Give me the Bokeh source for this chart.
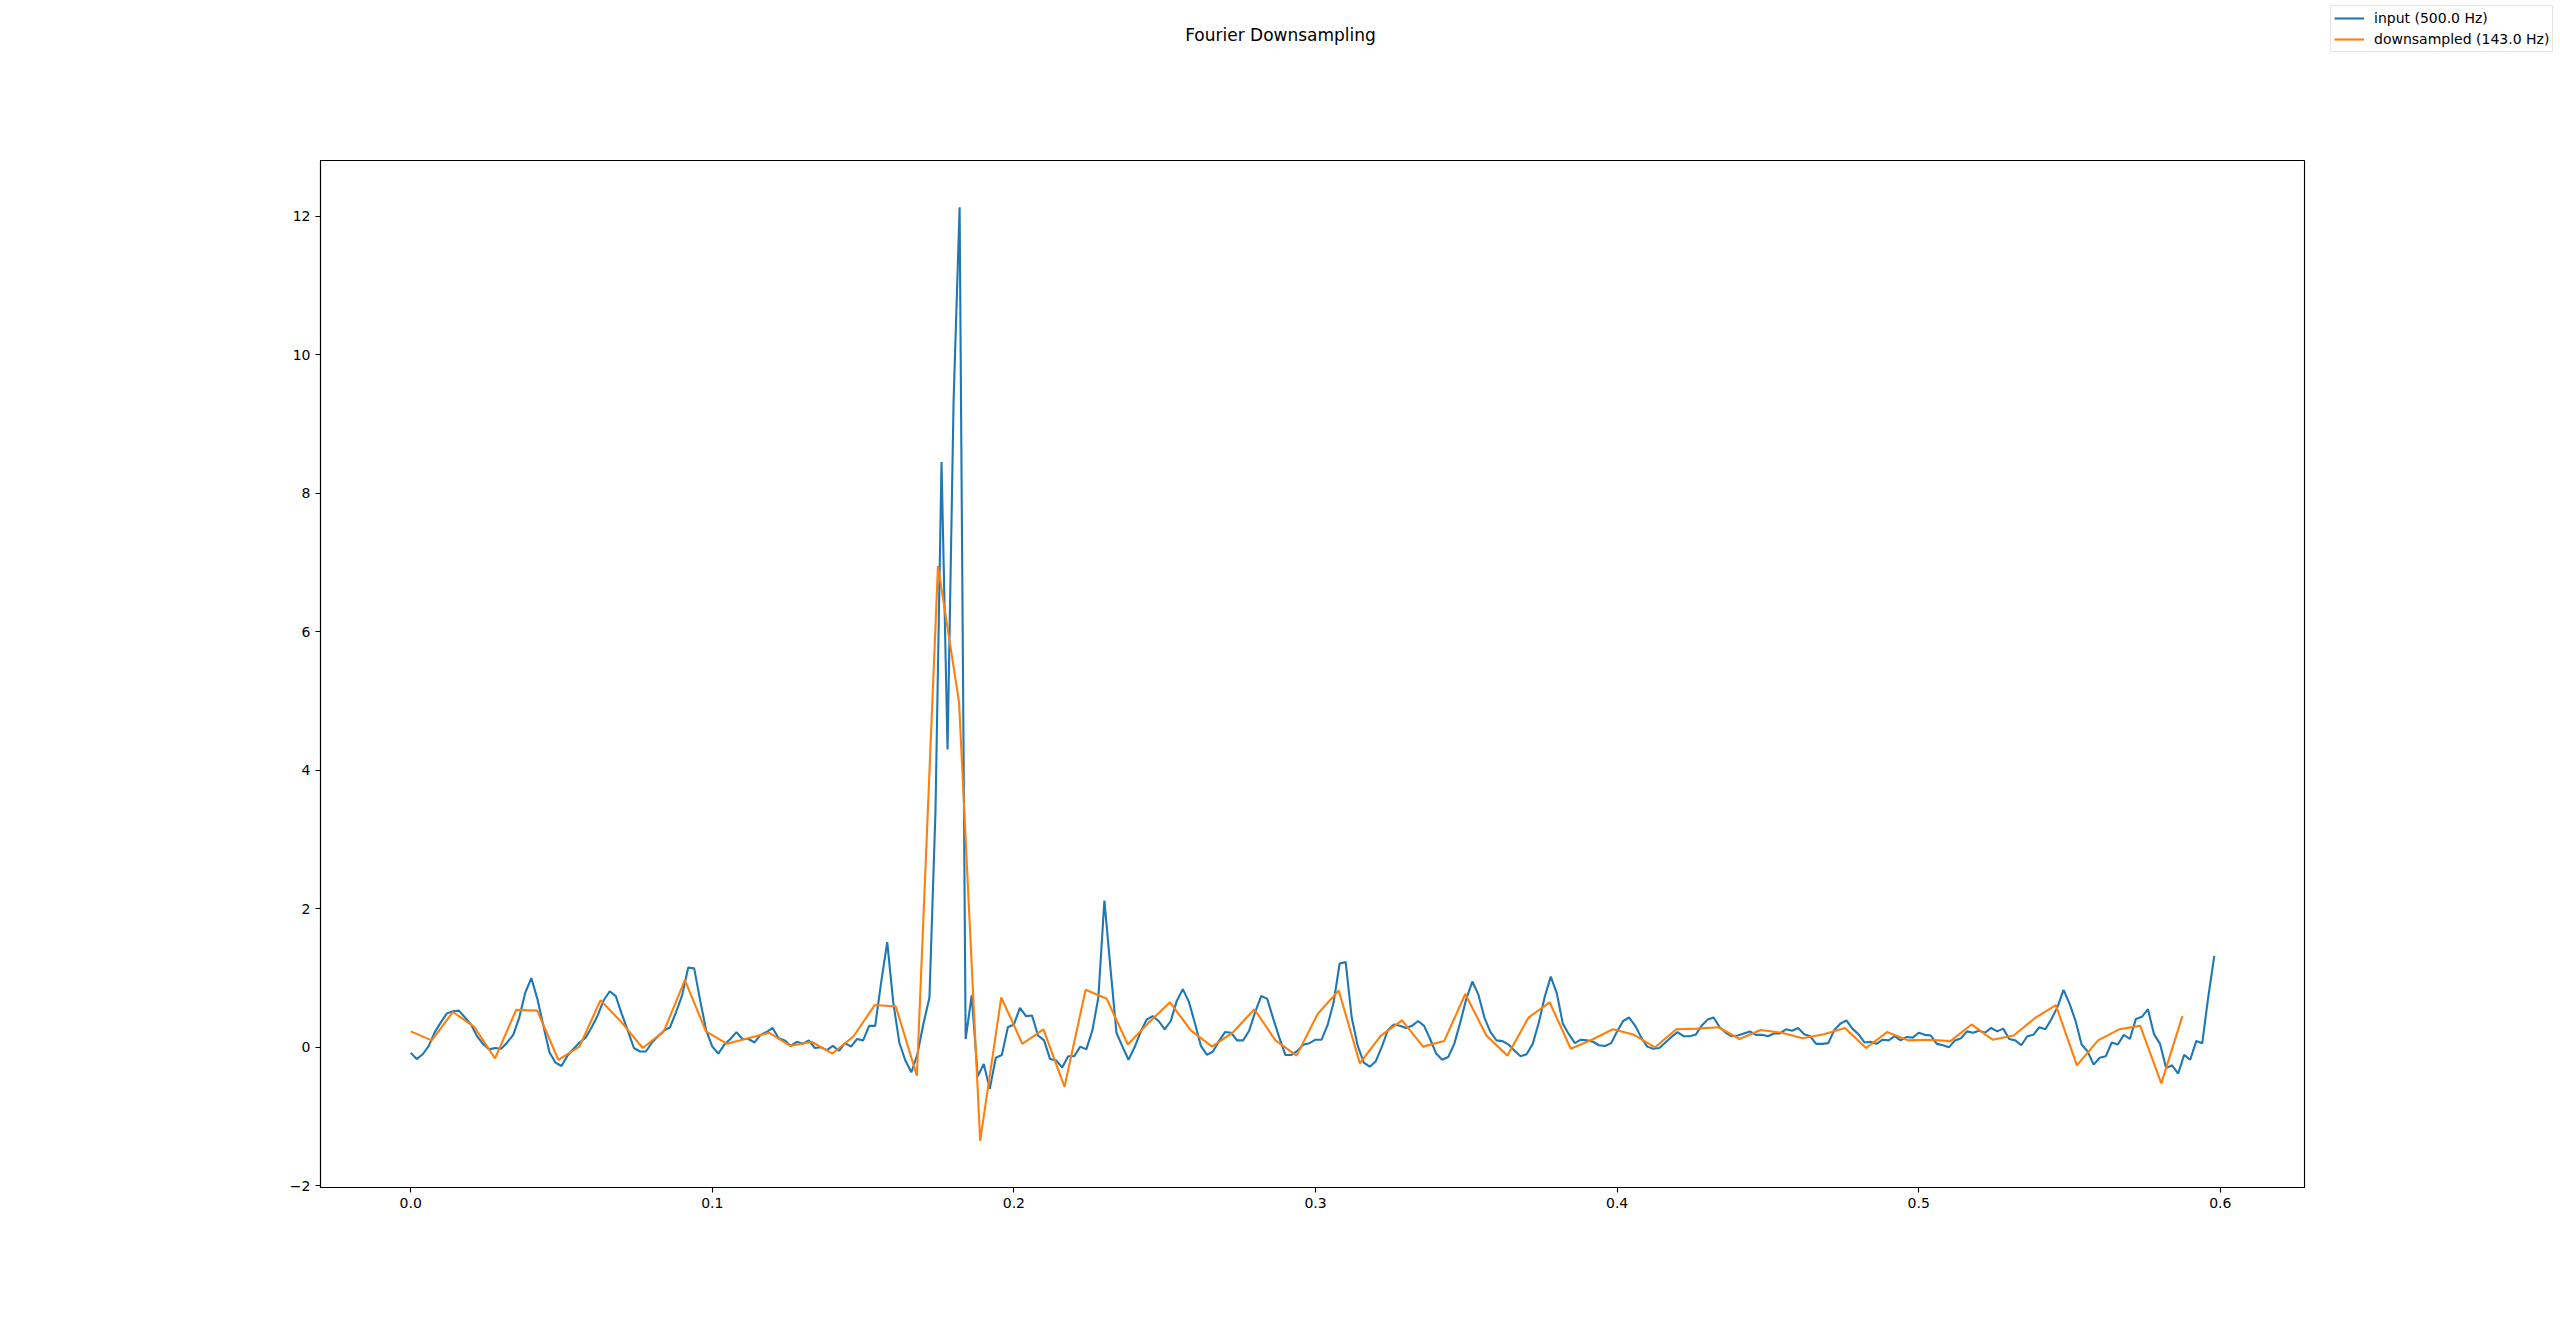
from bokeh.plotting import figure
from bokeh.models import Legend, LegendItem, Label, FixedTicker, Range1d
from bokeh.layouts import column
from bokeh.embed import file_html
from bokeh.resources import INLINE

TITLE = "Fourier Downsampling"
INPUT_RATE = 500.0
DOWN_RATE = 143.0
INPUT_LABEL = "input (500.0 Hz)"
DOWN_LABEL = "downsampled (143.0 Hz)"

input_values = [
    -0.08, -0.17, -0.10, 0.02, 0.22, 0.36, 0.49, 0.52, 0.53, 0.43,
    0.33, 0.16, 0.05, -0.03, -0.01, -0.02, 0.07, 0.18, 0.43, 0.79,
    1.00, 0.70, 0.31, -0.07, -0.22, -0.27, -0.12, -0.02, 0.07, 0.14,
    0.29, 0.46, 0.68, 0.81, 0.74, 0.48, 0.24, -0.01, -0.06, -0.06,
    0.07, 0.16, 0.24, 0.29, 0.51, 0.75, 1.15, 1.14, 0.67, 0.24,
    0.01, -0.09, 0.04, 0.12, 0.22, 0.12, 0.12, 0.07, 0.18, 0.22,
    0.28, 0.13, 0.10, 0.02, 0.08, 0.05, 0.10, -0.01, 0.00, -0.04,
    0.02, -0.05, 0.06, 0.01, 0.12, 0.10, 0.31, 0.31, 0.94, 1.52,
    0.65, 0.07, -0.19, -0.36, -0.10, 0.34, 0.72, 3.41, 8.45, 4.30,
    9.33, 12.13, 0.12, 0.75, -0.42, -0.24, -0.60, -0.15, -0.11, 0.29,
    0.33, 0.57, 0.45, 0.46, 0.17, 0.10, -0.17, -0.19, -0.29, -0.13,
    -0.13, 0.01, -0.03, 0.24, 0.72, 2.12, 1.15, 0.21, 0.01, -0.18,
    0.00, 0.22, 0.40, 0.45, 0.38, 0.26, 0.38, 0.67, 0.84, 0.66,
    0.35, 0.02, -0.11, -0.06, 0.09, 0.22, 0.21, 0.10, 0.10, 0.24,
    0.51, 0.74, 0.70, 0.41, 0.14, -0.11, -0.11, -0.05, 0.04, 0.06,
    0.11, 0.11, 0.32, 0.65, 1.21, 1.23, 0.43, 0.02, -0.22, -0.28,
    -0.20, 0.01, 0.25, 0.33, 0.31, 0.28, 0.31, 0.38, 0.31, 0.12,
    -0.09, -0.18, -0.14, 0.05, 0.36, 0.70, 0.95, 0.76, 0.43, 0.22,
    0.10, 0.09, 0.04, -0.05, -0.13, -0.10, 0.05, 0.35, 0.73, 1.02,
    0.78, 0.34, 0.19, 0.06, 0.11, 0.10, 0.08, 0.03, 0.02, 0.06,
    0.23, 0.38, 0.43, 0.31, 0.14, 0.01, -0.02, -0.01, 0.07, 0.15,
    0.22, 0.16, 0.16, 0.18, 0.31, 0.40, 0.43, 0.29, 0.21, 0.16,
    0.17, 0.20, 0.23, 0.18, 0.18, 0.16, 0.20, 0.20, 0.26, 0.24,
    0.28, 0.19, 0.16, 0.05, 0.05, 0.06, 0.25, 0.34, 0.39, 0.27,
    0.19, 0.07, 0.08, 0.05, 0.11, 0.10, 0.16, 0.10, 0.15, 0.14,
    0.21, 0.18, 0.17, 0.05, 0.03, 0.00, 0.10, 0.13, 0.23, 0.21,
    0.24, 0.21, 0.28, 0.23, 0.27, 0.12, 0.10, 0.03, 0.16, 0.18,
    0.29, 0.26, 0.41, 0.58, 0.83, 0.63, 0.38, 0.04, -0.06, -0.25,
    -0.15, -0.13, 0.07, 0.04, 0.18, 0.12, 0.41, 0.44, 0.55, 0.19,
    0.05, -0.30, -0.26, -0.38, -0.11, -0.18, 0.09, 0.06, 0.73, 1.32,
]

down_values = [
    0.23, 0.10, 0.51, 0.30, -0.16, 0.54, 0.53, -0.18, 0.01, 0.68,
    0.36, -0.01, 0.23, 0.97, 0.23, 0.05, 0.13, 0.21, 0.02, 0.08,
    -0.09, 0.16, 0.61, 0.59, -0.41, 6.95, 4.98, -1.35, 0.72, 0.05,
    0.26, -0.57, 0.83, 0.70, 0.04, 0.36, 0.65, 0.24, 0.01, 0.22,
    0.55, 0.10, -0.12, 0.48, 0.82, -0.23, 0.17, 0.39, 0.01, 0.09,
    0.77, 0.17, -0.12, 0.43, 0.65, -0.02, 0.11, 0.26, 0.18, 0.00,
    0.26, 0.27, 0.29, 0.12, 0.25, 0.21, 0.13, 0.19, 0.28, -0.01,
    0.22, 0.10, 0.11, 0.09, 0.33, 0.11, 0.17, 0.42, 0.61, -0.26,
    0.10, 0.26, 0.31, -0.52, 0.45,
]

X_TICKS = [0.0, 0.1, 0.2, 0.3, 0.4, 0.5, 0.6]
X_TICK_LABELS = ["0.0", "0.1", "0.2", "0.3", "0.4", "0.5", "0.6"]
Y_TICKS = [-2, 0, 2, 4, 6, 8, 10, 12]
Y_TICK_LABELS = ["\u22122", "0", "2", "4", "6", "8", "10", "12"]

input_t = [i / INPUT_RATE for i in range(len(input_values))]
down_t = [j / DOWN_RATE for j in range(len(down_values))]

# matplotlib-like 5% margins
xmin, xmax = min(input_t + down_t), max(input_t + down_t)
ymin, ymax = min(input_values + down_values), max(input_values + down_values)
xm = 0.05 * (xmax - xmin)
ym = 0.05 * (ymax - ymin)

FONT = "DejaVu Sans"
BLUE = "#1f77b4"
ORANGE = "#ff7f0e"
LEFT, FRAME_W, RIGHT = 320, 1984, 240
HEAD_H = 150
NAN = float("nan")

# ---- main plot ----
p = figure(
    frame_width=FRAME_W, frame_height=1027,
    min_border_left=LEFT, min_border_top=10, min_border_right=RIGHT, min_border_bottom=130,
    x_range=Range1d(xmin - xm, xmax + xm), y_range=Range1d(ymin - ym, ymax + ym),
    output_backend="svg", toolbar_location=None,
    background_fill_color="white", border_fill_color="white",
)
p.xgrid.visible = False
p.ygrid.visible = False
p.outline_line_color = "black"
p.outline_line_width = 1.1

for ax in (p.xaxis, p.yaxis):
    ax.axis_line_color = "black"
    ax.axis_line_width = 1.1
    ax.major_tick_line_width = 1.1
    ax.major_tick_out = 5
    ax.major_tick_in = 0
    ax.minor_tick_out = 0
    ax.minor_tick_in = 0
    ax.major_label_text_font = FONT
    ax.major_label_text_font_size = "14px"
    ax.major_label_text_color = "black"
    ax.major_label_standoff = 5

p.xaxis.ticker = FixedTicker(ticks=X_TICKS)
p.xaxis.major_label_overrides = {t: s for t, s in zip(X_TICKS, X_TICK_LABELS)}
p.yaxis.ticker = FixedTicker(ticks=Y_TICKS)
p.yaxis.major_label_overrides = {t: s for t, s in zip(Y_TICKS, Y_TICK_LABELS)}

p.line(input_t, input_values, line_color=BLUE, line_width=2.1)
p.line(down_t, down_values, line_color=ORANGE, line_width=2.1)

# ---- header strip holding the figure title and figure legend ----
head = figure(
    frame_width=FRAME_W, frame_height=HEAD_H,
    min_border_left=LEFT, min_border_right=RIGHT, min_border_top=0, min_border_bottom=0,
    x_range=Range1d(LEFT, LEFT + FRAME_W), y_range=Range1d(HEAD_H, 0),
    x_axis_type=None, y_axis_type=None,
    output_backend="svg", toolbar_location=None,
    background_fill_color="white", border_fill_color="white",
)
head.outline_line_color = None
head.xgrid.visible = False
head.ygrid.visible = False
# legend proxies (a single NaN point: nothing is drawn, only the legend swatch)
h_in = head.line(x=[NAN], y=[NAN], line_color=BLUE, line_width=2.1)
h_dn = head.line(x=[NAN], y=[NAN], line_color=ORANGE, line_width=2.1)

legend = Legend(
    items=[LegendItem(label=INPUT_LABEL, renderers=[h_in]),
           LegendItem(label=DOWN_LABEL, renderers=[h_dn])],
    location=(2330 - (LEFT + FRAME_W), HEAD_H - 52),
    label_text_font=FONT, label_text_font_size="14px", label_text_color="black",
    glyph_width=30, glyph_height=18, label_height=18, label_standoff=10,
    spacing=3, padding=3, margin=0,
    border_line_color="#cccccc", border_line_width=1.2,
    background_fill_color="white", background_fill_alpha=0.8,
)
head.add_layout(legend, "right")

head.add_layout(Label(
    x=1280, y=34, text=TITLE,
    text_font=FONT, text_font_size="17px", text_color="black",
    text_align="center", text_baseline="middle",
))

layout = column(head, p, spacing=0)
open("out.html", "w").write(file_html(layout, INLINE))
